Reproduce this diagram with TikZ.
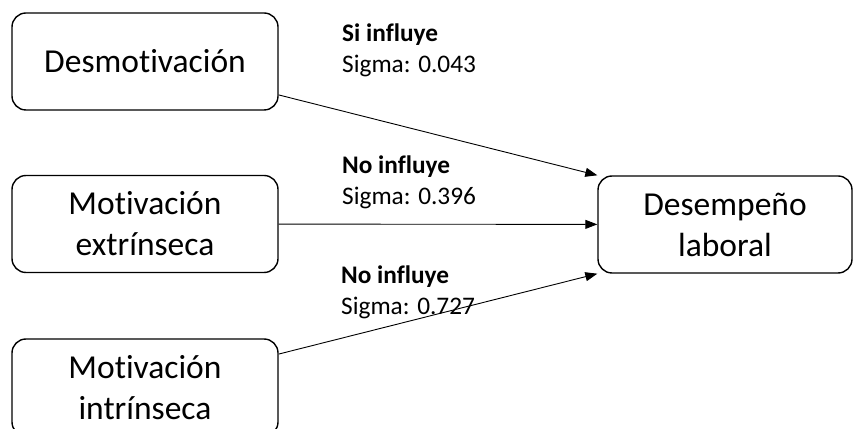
\documentclass[tikz,border=0pt]{standalone}
\usepackage{fontspec}
\setmainfont[Ligatures=NoCommon]{Carlito}
\usetikzlibrary{arrows.meta}

\begin{document}
\begin{tikzpicture}[x=1pt, y=1pt,
    box/.style={draw, line width=1.4pt, rounded corners=14pt, minimum height=97pt,
        align=center, font=\fontsize{33.5}{41}\selectfont},
    link/.style={-{Triangle[length=12pt,width=9pt]}, line width=0.9pt},
    note/.style={align=left, anchor=base west, inner sep=0pt,
        font=\fontsize{25.3}{31}\selectfont}]
    \useasboundingbox (0,0) rectangle (853,428);
    \clip (0,0) rectangle (853,428);

    \node[box, minimum width=266pt] (desmot) at (145,366.5) {Desmotivación};
    \node[box, minimum width=266pt] (extr) at (145,204) {Motivación\\extrínseca};
    \node[box, minimum width=266pt] (intr) at (145,40.5) {Motivación\\intrínseca};
    \node[box, minimum width=254pt] (desemp) at (725,203.5) {Desempeño\\laboral};

    \draw[link] (desmot) -- (desemp.north west);
    \draw[link] (extr) -- (desemp);
    \draw[link] (intr) -- (desemp.south west);

    % base anchor sits on the second line
    \node[note] (sig1) at (342,355) {\textbf{Si influye}\\Sigma: 0.043};
    \node[note] (sig2) at (342,223) {\textbf{No influye}\\Sigma: 0.396};
    \node[note] (sig3) at (341,113) {\textbf{No influye}\\Sigma: 0.727};
\end{tikzpicture}
\end{document}
